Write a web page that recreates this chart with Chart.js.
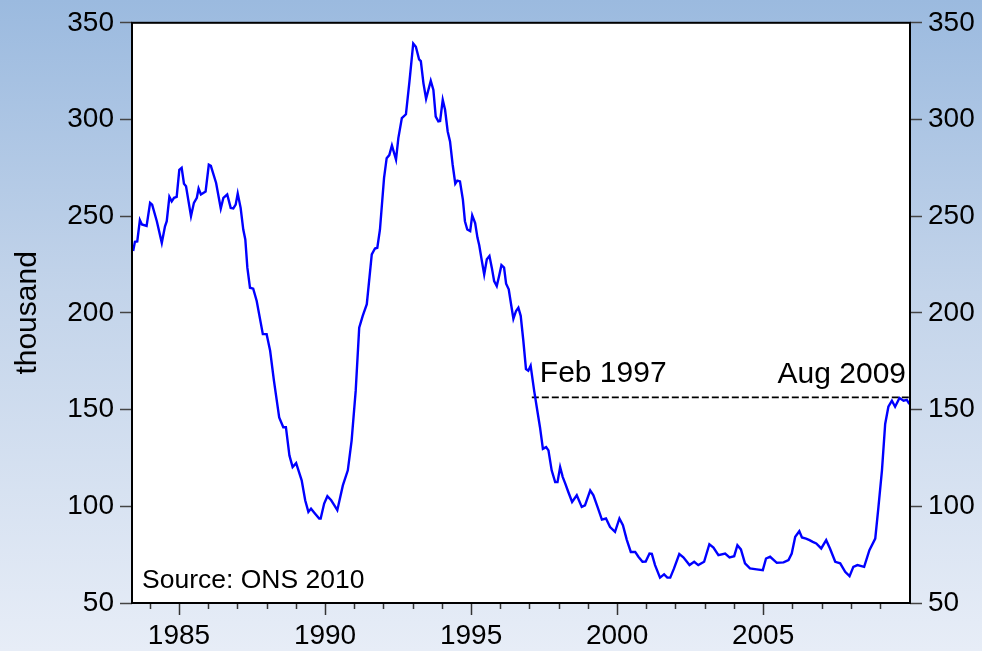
<!DOCTYPE html>
<html>
<head>
<meta charset="utf-8">
<script src="https://cdn.jsdelivr.net/npm/chart.js@4/dist/chart.umd.min.js"></script>
<style>
  html, body { margin: 0; padding: 0; }
  body {
    width: 982px; height: 651px; overflow: hidden;
    background: linear-gradient(to bottom, #9bbadf 0%, #c3d4ea 45%, #e7edf7 100%);
  }
  #wrap { width: 982px; height: 651px; position: relative; }
</style>
</head>
<body>
<div id="wrap"><canvas id="chart"></canvas></div>
<script>
// Datas em anos decimais (mensal aproximado), valores em milhares
const years = [
  1983.43, 1983.49, 1983.57, 1983.66, 1983.73, 1983.89, 1984.01, 1984.08, 1984.24, 1984.41,
  1984.52, 1984.58, 1984.67, 1984.75, 1984.83, 1984.92, 1985.01, 1985.09, 1985.17, 1985.24,
  1985.41, 1985.51, 1985.61, 1985.67, 1985.75, 1985.91, 1986.02, 1986.09, 1986.27, 1986.43,
  1986.52, 1986.65, 1986.77, 1986.86, 1986.94, 1987.01, 1987.11, 1987.20, 1987.27, 1987.34,
  1987.43, 1987.54, 1987.66, 1987.87, 1988.00, 1988.12, 1988.25, 1988.43, 1988.57, 1988.66,
  1988.78, 1988.89, 1989.01, 1989.20, 1989.32, 1989.43, 1989.52, 1989.66, 1989.80, 1989.85,
  1989.97, 1990.08, 1990.21, 1990.32, 1990.42, 1990.61, 1990.78, 1990.91, 1991.05, 1991.17,
  1991.29, 1991.43, 1991.60, 1991.71, 1991.79, 1991.88, 1992.02, 1992.11, 1992.20, 1992.29,
  1992.43, 1992.51, 1992.63, 1992.77, 1992.89, 1993.02, 1993.11, 1993.22, 1993.28, 1993.37,
  1993.46, 1993.62, 1993.71, 1993.79, 1993.88, 1993.94, 1994.03, 1994.11, 1994.20, 1994.28,
  1994.37, 1994.46, 1994.53, 1994.62, 1994.72, 1994.79, 1994.87, 1994.97, 1995.04, 1995.14,
  1995.22, 1995.28, 1995.37, 1995.45, 1995.54, 1995.63, 1995.71, 1995.79, 1995.88, 1995.96,
  1996.04, 1996.13, 1996.20, 1996.29, 1996.37, 1996.45, 1996.54, 1996.62, 1996.70, 1996.79,
  1996.88, 1996.96, 1997.04, 1997.16, 1997.25, 1997.36, 1997.46, 1997.57, 1997.65, 1997.76,
  1997.88, 1997.96, 1998.05, 1998.14, 1998.22, 1998.33, 1998.46, 1998.62, 1998.79, 1998.90,
  1999.08, 1999.19, 1999.33, 1999.48, 1999.62, 1999.76, 1999.93, 2000.08, 2000.20, 2000.33,
  2000.47, 2000.62, 2000.73, 2000.87, 2000.98, 2001.11, 2001.19, 2001.30, 2001.47, 2001.61,
  2001.72, 2001.82, 2001.95, 2002.13, 2002.27, 2002.48, 2002.64, 2002.78, 2002.98, 2003.16,
  2003.30, 2003.47, 2003.70, 2003.85, 2004.01, 2004.12, 2004.24, 2004.38, 2004.55, 2004.78,
  2004.99, 2005.10, 2005.24, 2005.47, 2005.70, 2005.87, 2005.98, 2006.10, 2006.24, 2006.33,
  2006.47, 2006.59, 2006.70, 2006.82, 2006.99, 2007.16, 2007.29, 2007.47, 2007.64, 2007.81,
  2007.96, 2008.09, 2008.23, 2008.46, 2008.64, 2008.84, 2008.95, 2009.07, 2009.18, 2009.29,
  2009.41, 2009.52, 2009.67, 2009.81, 2009.92, 2010.01
];
const claimants = [
  232, 236.8, 237, 248, 245.7, 245, 256.9, 256, 247.4, 236.2,
  244.8, 247.4, 260, 257.7, 259.5, 260, 274, 275, 266.8, 265.5,
  250, 256.9, 259.5, 264.3, 261.2, 262.7, 276.6, 276, 267.2, 254,
  259.5, 261.2, 254.3, 254, 256, 261.7, 254.3, 243.1, 238, 223.4,
  213, 212.5, 206.2, 189, 189, 180.4, 165, 146, 140.9, 140.9,
  126.3, 120.3, 122.3, 113.4, 103.1, 97.1, 98.8, 96.2, 93.7, 93.7,
  101.4, 105.2, 103.1, 100.5, 98, 110.8, 118.6, 134, 159.8, 192.4,
  198.5, 204.5, 230.3, 233.3, 233.7, 243, 269.7, 280, 281.6, 286.6,
  279.3, 290.4, 300.7, 302.7, 319.6, 339.3, 337.6, 331.1, 330.2, 318.7,
  310.7, 320, 315.3, 301.5, 299, 299.2, 310.2, 305, 293.8, 288.7,
  276.6, 266.8, 268.4, 268, 258.6, 247.4, 243.1, 242.3, 250.4, 246.5,
  238.8, 235, 226.8, 219.9, 227.7, 229.4, 223.4, 216.5, 213.9, 219.1,
  224.7, 223.4, 215.1, 212.2, 204.5, 197, 201, 202.7, 198.5, 185.6,
  171, 170.1, 172.7, 159.8, 151.2, 140.9, 129.7, 130.6, 128.9, 118.6,
  112.5, 112.5, 120.3, 115.1, 112, 107.4, 102.2, 105.7, 99.7, 100.5,
  108.2, 105.7, 99.7, 93.1, 93.7, 89.3, 86.8, 93.7, 90.2, 82.8,
  76.4, 76.4, 73.9, 71.3, 71.4, 75.6, 75.4, 69.6, 63.1, 64.8,
  63.1, 63.1, 67.9, 75.3, 73.6, 69.6, 71.3, 69.6, 71.3, 80.4,
  78.7, 74.7, 75.6, 73.6, 74.2, 79.9, 77.7, 70.5, 67.9, 67.4,
  67, 73, 73.9, 70.8, 71, 72.2, 75.6, 84.2, 87.1, 83.9,
  83.3, 82.5, 81.6, 80.8, 78.2, 82.5, 78.2, 71.3, 70.5, 66.1,
  63.9, 68.7, 69.6, 68.7, 77.3, 83.3, 99.7, 118.6, 142.6, 151.5,
  154.6, 151.5, 156, 154.6, 155, 152.9
];

// Linha de referência (Fev 1997 até Ago 2009)
const refStart = 1997.08;
const refEnd = 2010.03;
const refLevel = 156.3;

const yTicks = [50, 100, 150, 200, 250, 300, 350];
const xLabelYears = [1985, 1990, 1995, 2000, 2005];

const fontFamily = '"Liberation Sans", Arial, sans-serif';

// Fundo branco da área do gráfico + moldura preta + textos
const frame = {
  id: 'frame',
  beforeDatasetsDraw(chart) {
    const { ctx, chartArea: a } = chart;
    ctx.save();
    ctx.fillStyle = '#ffffff';
    ctx.fillRect(a.left, a.top, a.right - a.left, a.bottom - a.top);
    ctx.restore();
  },
  afterDatasetsDraw(chart) {
    const { ctx, chartArea: a, scales } = chart;
    ctx.save();
    // ticks do eixo x (todo ano, maiores a cada 5)
    ctx.strokeStyle = '#333';
    ctx.lineWidth = 1.5;
    for (let yr = 1984; yr <= 2009; yr++) {
      const px = Math.round(scales.x.getPixelForValue(yr)) + 0.5;
      const len = (yr % 5 === 0) ? 12 : 6;
      ctx.beginPath();
      ctx.moveTo(px, a.bottom);
      ctx.lineTo(px, a.bottom + len);
      ctx.stroke();
    }
    ctx.strokeStyle = '#000';
    ctx.lineWidth = 2;
    ctx.strokeRect(a.left, a.top, a.right - a.left, a.bottom - a.top);

    ctx.fillStyle = '#000';
    ctx.font = '30px ' + fontFamily;
    ctx.textBaseline = 'alphabetic';
    const yRef = scales.y.getPixelForValue(refLevel);
    ctx.textAlign = 'left';
    ctx.fillText('Feb 1997', scales.x.getPixelForValue(refStart) + 8, yRef - 15);
    ctx.textAlign = 'right';
    ctx.fillText('Aug 2009', a.right - 4, yRef - 14);
    ctx.font = '26.5px ' + fontFamily;
    ctx.textAlign = 'left';
    ctx.fillText('Source: ONS 2010', a.left + 10, a.bottom - 15);
    ctx.restore();
  }
};

new Chart(document.getElementById('chart'), {
  type: 'line',
  data: {
    datasets: [{
      data: years.map((yr, i) => ({ x: yr, y: claimants[i] })),
      borderColor: '#0000ff',
      borderWidth: 2.4,
      pointRadius: 0,
      tension: 0,
      fill: false
    }, {
      data: [{ x: refStart, y: refLevel }, { x: refEnd, y: refLevel }],
      borderColor: '#000000',
      borderWidth: 1.6,
      borderDash: [7, 3],
      pointRadius: 0,
      fill: false
    }]
  },
  options: {
    responsive: true,
    maintainAspectRatio: false,
    animation: false,
    layout: { padding: { top: 21, left: 0, right: 0, bottom: 0 } },
    plugins: { legend: { display: false }, tooltip: { enabled: false } },
    scales: {
      x: {
        type: 'linear',
        min: 1983.39,
        max: 2010.03,
        afterBuildTicks(scale) {
          scale.ticks = xLabelYears.map(v => ({ value: v }));
        },
        afterFit(scale) { scale.height = 48; },
        border: { display: false },
        grid: { display: true, drawOnChartArea: false, drawTicks: true, tickLength: 12, tickColor: 'transparent' },
        ticks: {
          color: '#000',
          font: { family: fontFamily, size: 28 },
          padding: 4,
          maxRotation: 0,
          autoSkip: false,
          callback: v => String(v)
        }
      },
      y: {
        position: 'left',
        min: 50,
        max: 350,
        afterBuildTicks(scale) { scale.ticks = yTicks.map(v => ({ value: v })); },
        afterFit(scale) { scale.width = 132; },
        border: { display: false },
        grid: { drawOnChartArea: false, tickLength: 12, tickColor: '#444', tickWidth: 1.5 },
        ticks: { color: '#000', font: { family: fontFamily, size: 28 }, padding: 6 },
        title: { display: true, text: 'thousand', color: '#000', font: { family: fontFamily, size: 30 }, padding: { top: 10, bottom: 0 } }
      },
      y2: {
        position: 'right',
        min: 50,
        max: 350,
        afterBuildTicks(scale) { scale.ticks = yTicks.map(v => ({ value: v })); },
        afterFit(scale) { scale.width = 72; },
        border: { display: false },
        grid: { drawOnChartArea: false, tickLength: 12, tickColor: '#444', tickWidth: 1.5 },
        ticks: { color: '#000', font: { family: fontFamily, size: 28 }, padding: 6 }
      }
    }
  },
  plugins: [frame]
});
</script>
</body>
</html>
